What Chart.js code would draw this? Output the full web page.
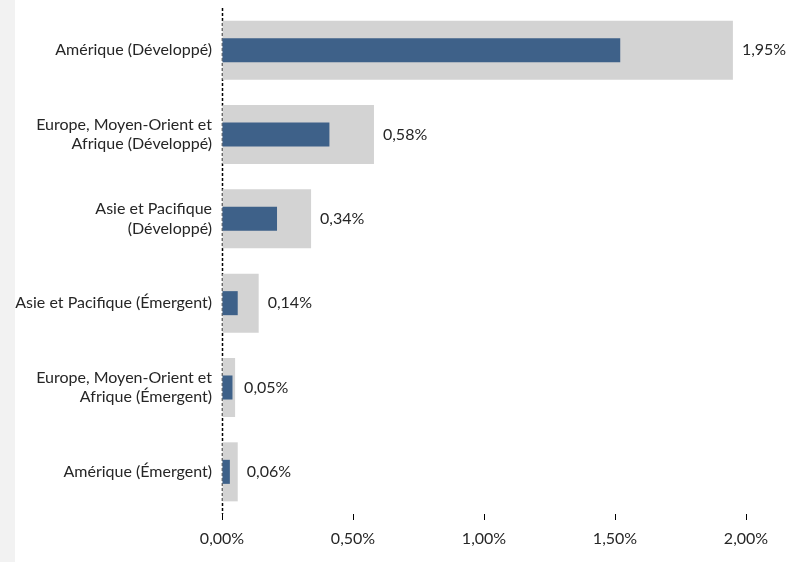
<!DOCTYPE html>
<html>
<head>
<meta charset="utf-8">
<script src="https://cdn.jsdelivr.net/npm/chart.js@4.4.0/dist/chart.umd.min.js"></script>
<style>
  html, body { margin: 0; padding: 0; background: #f2f2f2; }
  #wrap { position: absolute; left: 15px; top: 0; width: 784px; height: 562px; background: #ffffff; }
</style>
</head>
<body>
<div id="wrap"><canvas id="c" width="784" height="562"></canvas></div>
<script>
const categories = [
  "Amérique (Développé)",
  ["Europe, Moyen-Orient et", "Afrique (Développé)"],
  ["Asie et Pacifique", "(Développé)"],
  "Asie et Pacifique (Émergent)",
  ["Europe, Moyen-Orient et", "Afrique (Émergent)"],
  "Amérique (Émergent)"
];
const totalValues = [1.95, 0.58, 0.34, 0.14, 0.05, 0.06];
const innerValues = [1.52, 0.41, 0.21, 0.06, 0.04, 0.03];
const xTicks = [0, 0.5, 1.0, 1.5, 2.0];

const fmt = v => v.toFixed(2).replace('.', ',') + '%';
const FONT = "Lato, 'Open Sans', sans-serif";
const FS = 16;

const dashedAxis = {
  id: 'dashedAxis',
  beforeDatasetsDraw(chart) {
    const ctx = chart.ctx;
    const x = Math.round(chart.scales.x.getPixelForValue(0)) + 0.5;
    ctx.save();
    ctx.strokeStyle = '#000000';
    ctx.lineWidth = 1.5;
    ctx.setLineDash([3, 2]);
    ctx.beginPath();
    ctx.moveTo(x, chart.chartArea.top);
    ctx.lineTo(x, chart.chartArea.bottom);
    ctx.stroke();
    ctx.restore();
  }
};

const valueLabels = {
  id: 'valueLabels',
  afterDatasetsDraw(chart) {
    const ctx = chart.ctx;
    const meta = chart.getDatasetMeta(1);
    ctx.save();
    ctx.font = FS + "px " + FONT;
    ctx.fillStyle = '#262626';
    ctx.textAlign = 'left';
    ctx.textBaseline = 'middle';
    meta.data.forEach((bar, i) => {
      ctx.fillText(fmt(totalValues[i]), bar.x + 9, bar.y);
    });
    ctx.restore();
  }
};

new Chart(document.getElementById('c'), {
  type: 'bar',
  data: {
    labels: categories,
    datasets: [
      {
        label: 'inner',
        data: innerValues,
        backgroundColor: '#3e6189',
        grouped: false,
        barPercentage: 0.285,
        categoryPercentage: 1,
        order: 0
      },
      {
        label: 'total',
        data: totalValues,
        backgroundColor: '#d3d3d3',
        grouped: false,
        barPercentage: 0.70,
        categoryPercentage: 1,
        order: 1
      }
    ]
  },
  options: {
    indexAxis: 'y',
    responsive: false,
    animation: false,
    layout: { padding: { top: 8, right: 53, bottom: 0, left: 0 } },
    plugins: { legend: { display: false }, tooltip: { enabled: false } },
    scales: {
      x: {
        min: 0, max: 2,
        afterBuildTicks: s => { s.ticks = xTicks.map(v => ({ value: v })); },
        ticks: { callback: v => fmt(v), color: '#262626', font: { size: FS, family: FONT }, padding: 9, maxRotation: 0 },
        grid: { drawOnChartArea: false, drawTicks: true, tickLength: 6, color: '#000000' },
        border: { display: false },
        afterFit: s => { s.height = 48; s.paddingLeft = 0; s.paddingRight = 0; }
      },
      y: {
        ticks: { color: '#262626', font: { size: FS, family: FONT, lineHeight: 1.2 }, padding: 10 },
        grid: { display: false, drawTicks: false },
        border: { display: false },
        afterFit: s => { s.width = 207; s.paddingTop = 0; s.paddingBottom = 0; }
      }
    }
  },
  plugins: [dashedAxis, valueLabels]
});
</script>
</body>
</html>
